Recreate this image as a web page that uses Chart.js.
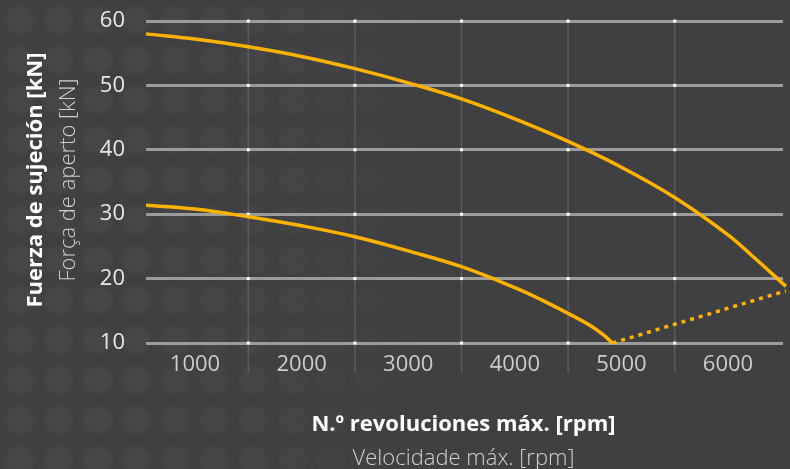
<!DOCTYPE html>
<html>
<head>
<meta charset="utf-8">
<script src="https://cdn.jsdelivr.net/npm/chart.js@4.4.0/dist/chart.umd.min.js"></script>
<style>
  html, body { margin: 0; padding: 0; background: #404042; }
  #wrap { position: relative; width: 790px; height: 469px; overflow: hidden; background: #404042; }
  #fondo {
    position: absolute; left: 0; top: 0; width: 790px; height: 469px;
    background-image: radial-gradient(circle at center, rgba(255,255,255,0.035) 0, rgba(255,255,255,0.035) 12px, rgba(255,255,255,0) 17px);
    background-size: 39px 40px;
    -webkit-mask-image: linear-gradient(to right, #000 0%, rgba(0,0,0,0.7) 35%, rgba(0,0,0,0) 60%);
    mask-image: linear-gradient(to right, #000 0%, rgba(0,0,0,0.7) 35%, rgba(0,0,0,0) 60%);
  }
  canvas { position: absolute; left: 0; top: 0; }
</style>
</head>
<body>
<div id="wrap">
  <div id="fondo"></div>
  <canvas id="grafico" width="790" height="469"></canvas>
</div>
<script>
// curva superior
const rpmSuperior = [540, 1000, 1500, 2000, 2500, 3000, 3500, 4000, 4500, 5000, 5500, 6000, 6250, 6543];
const fuerzaSuperior = [58.0, 57.2, 56.0, 54.5, 52.6, 50.4, 47.9, 44.8, 41.3, 37.3, 32.6, 26.8, 23.2, 18.8];
// curva inferior
const rpmInferior = [540, 1000, 1500, 2000, 2500, 3000, 3500, 4000, 4250, 4500, 4700, 4820, 4917];
const fuerzaInferior = [31.4, 30.8, 29.6, 28.2, 26.5, 24.3, 21.85, 18.6, 16.7, 14.6, 12.8, 11.4, 10.0];
// tramo punteado
const rpmLimite = [4917, 6543];
const fuerzaLimite = [10.0, 18.1];

const ticksX = [1000, 2000, 3000, 4000, 5000, 6000];
const lineasX = [1500, 2500, 3500, 4500, 5500];
const ticksY = [10, 20, 30, 40, 50, 60];

const tituloY = 'Fuerza de sujeción [kN]';
const subtituloY = 'Força de aperto [kN]';
const tituloX = 'N.º revoluciones máx. [rpm]';
const subtituloX = 'Velocidade máx. [rpm]';

const puntos = (xs, ys) => xs.map((v, i) => ({ x: v, y: ys[i] }));
const naranja = '#ffb300';
const fuente = '"Open Sans", "Noto Sans", sans-serif';

const decoracion = {
  id: 'decoracion',
  beforeDatasetsDraw(chart) {
    const { ctx, chartArea, scales: { x, y } } = chart;
    const arriba = y.getPixelForValue(ticksY[ticksY.length - 1]);
    ctx.save();
    ctx.strokeStyle = 'rgba(255,255,255,0.14)';
    ctx.lineWidth = 1.5;
    lineasX.forEach(v => {
      const px = x.getPixelForValue(v);
      ctx.beginPath();
      ctx.moveTo(px, arriba);
      ctx.lineTo(px, chartArea.bottom + 30);
      ctx.stroke();
    });
    ctx.fillStyle = '#ffffff';
    lineasX.forEach(v => {
      const px = x.getPixelForValue(v);
      ticksY.forEach(t => {
        const py = y.getPixelForValue(t);
        ctx.fillRect(px - 1.5, py - 1.5, 3, 3);
      });
    });
    ctx.restore();
  },
  afterDraw(chart) {
    const { ctx, chartArea } = chart;
    const cx = (chartArea.left + chartArea.right) / 2;
    const cy = (chartArea.top + chartArea.bottom) / 2;
    ctx.save();
    ctx.textAlign = 'center';
    ctx.textBaseline = 'alphabetic';
    ctx.fillStyle = '#ffffff';
    ctx.font = 'bold 22px ' + fuente;
    ctx.fillText(tituloX, cx - 1, 431);
    ctx.fillStyle = '#cfcfcf';
    ctx.font = '300 22px ' + fuente;
    ctx.fillText(subtituloX, cx - 1, 465);

    ctx.translate(41.5, cy - 2);
    ctx.rotate(-Math.PI / 2);
    ctx.fillStyle = '#ffffff';
    ctx.font = 'bold 22px ' + fuente;
    ctx.fillText(tituloY, 0, 0);
    ctx.fillStyle = '#cfcfcf';
    ctx.font = '300 22px ' + fuente;
    ctx.fillText(subtituloY, 0, 33.5);
    ctx.restore();
  }
};

new Chart(document.getElementById('grafico'), {
  type: 'line',
  data: {
    datasets: [
      {
        data: puntos(rpmSuperior, fuerzaSuperior),
        borderColor: naranja,
        borderWidth: 3.5,
        pointRadius: 0,
        tension: 0.4,
        clip: false
      },
      {
        data: puntos(rpmInferior, fuerzaInferior),
        borderColor: naranja,
        borderWidth: 3.5,
        pointRadius: 0,
        tension: 0.4,
        clip: false
      },
      {
        data: puntos(rpmLimite, fuerzaLimite),
        borderColor: naranja,
        borderWidth: 3.5,
        borderDash: [4, 5],
        pointRadius: 0,
        clip: false
      }
    ]
  },
  options: {
    responsive: false,
    animation: false,
    layout: { padding: { left: 0, right: 7, top: 21, bottom: 0 } },
    plugins: { legend: { display: false }, tooltip: { enabled: false } },
    scales: {
      x: {
        type: 'linear',
        min: 540,
        max: 6516,
        grid: { display: false },
        border: { display: false },
        ticks: {
          color: '#cccccc', font: { family: fuente, size: 22 }, padding: 1,
          callback: v => String(v)
        },
        afterBuildTicks: s => { s.ticks = ticksX.map(v => ({ value: v })); },
        afterFit: s => { s.height = 126; }
      },
      y: {
        min: 10,
        max: 60,
        grid: { color: '#9b9b9b', lineWidth: 3, drawTicks: false },
        border: { display: false },
        ticks: { color: '#e8e8e8', font: { family: fuente, size: 22 }, padding: 21 },
        afterBuildTicks: s => { s.ticks = ticksY.map(v => ({ value: v })); },
        afterFit: s => { s.width = 146; s.paddingTop = 0; s.paddingBottom = 0; }
      }
    }
  },
  plugins: [decoracion]
});
</script>
</body>
</html>
